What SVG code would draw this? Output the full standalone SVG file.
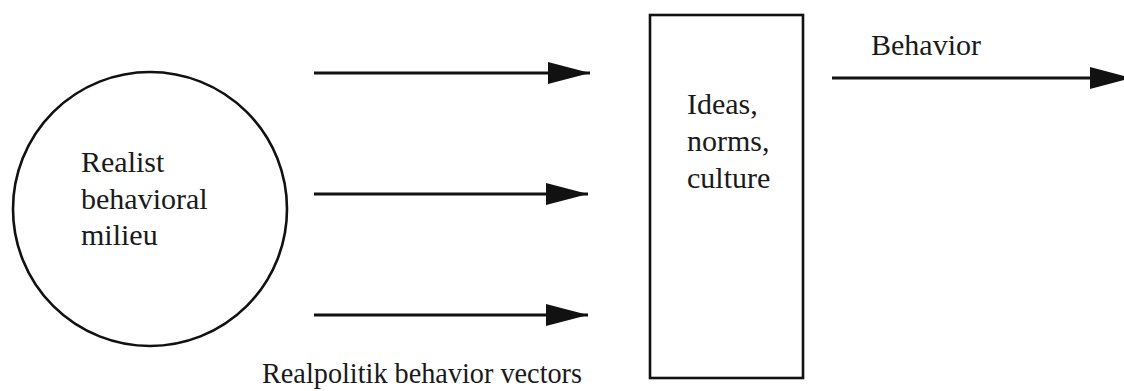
<svg xmlns="http://www.w3.org/2000/svg" width="1124" height="391" viewBox="0 0 1124 391">
  <style>
    .shape { fill: none; stroke: #111; stroke-width: 2.6; }
    .label { font-family: "Liberation Serif", "Times New Roman", serif; font-size: 30px; fill: #1a1a1a; }
    .vector { stroke: #111; stroke-width: 2.8; fill: none; }
  </style>
  <defs>
    <marker id="head" markerUnits="userSpaceOnUse" markerWidth="44" markerHeight="24" refX="42" refY="11" orient="auto">
      <path d="M0,0 L42,11 L0,22 Z" fill="#111"/>
    </marker>
  </defs>
  <rect width="1124" height="391" fill="#fff"/>

  <g id="milieu">
    <circle class="shape" cx="150" cy="209" r="137"/>
    <text class="label" x="81" y="172">Realist</text>
    <text class="label" x="81" y="209">behavioral</text>
    <text class="label" x="81" y="245">milieu</text>
  </g>

  <g id="ideas">
    <rect class="shape" x="650" y="15" width="153" height="363"/>
    <text class="label" x="687" y="114">Ideas,</text>
    <text class="label" x="687" y="151">norms,</text>
    <text class="label" x="687" y="188">culture</text>
  </g>

  <g id="connectors">
    <line class="vector" x1="314" y1="73" x2="590" y2="73" marker-end="url(#head)"/>
    <line class="vector" x1="314" y1="194" x2="588" y2="194" marker-end="url(#head)"/>
    <line class="vector" x1="314" y1="315" x2="588" y2="315" marker-end="url(#head)"/>
    <line class="vector" x1="832" y1="78" x2="1132" y2="78" marker-end="url(#head)"/>
    <text class="label" x="871" y="55">Behavior</text>
    <text class="label" x="262" y="383" textLength="320" lengthAdjust="spacingAndGlyphs">Realpolitik behavior vectors</text>
  </g>
</svg>
